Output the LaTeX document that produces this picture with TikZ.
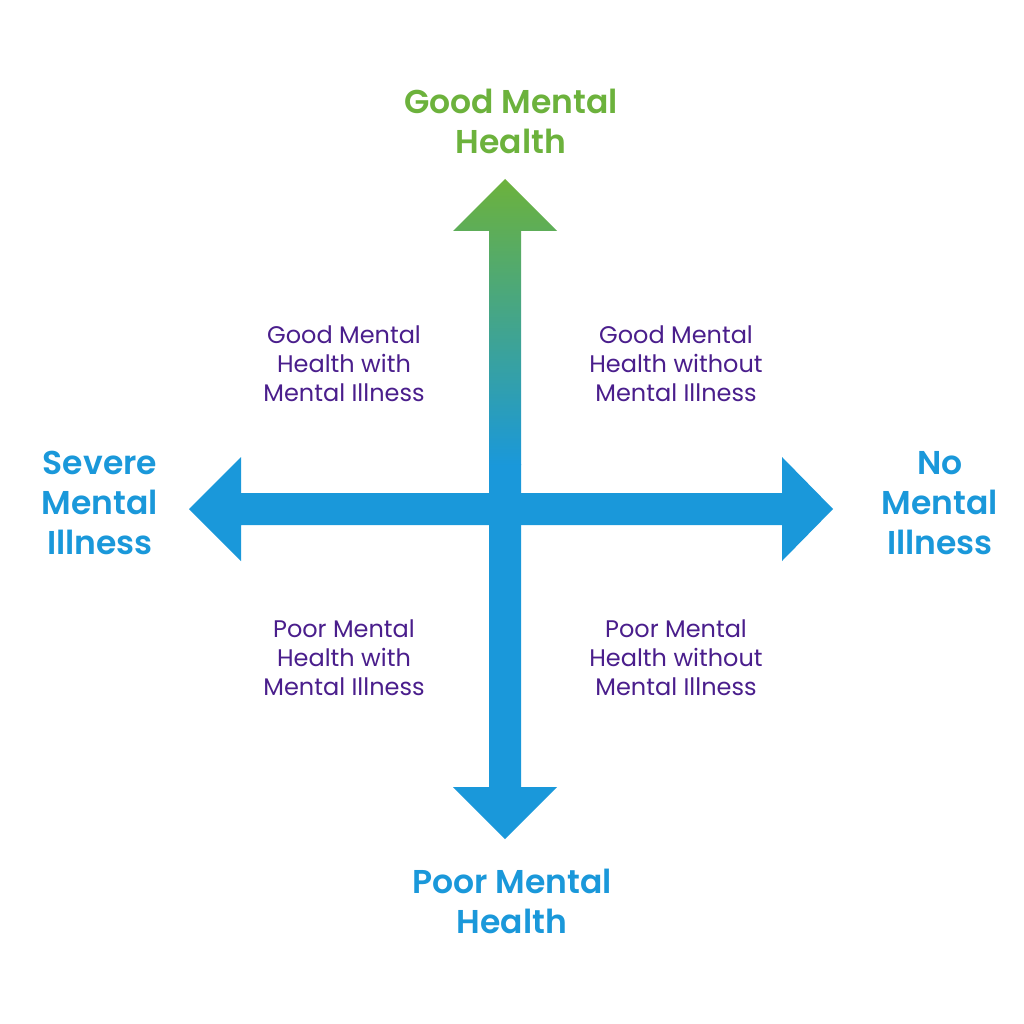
\documentclass[tikz,border=0pt]{standalone}
\usepackage{fontspec}
\setmainfont{Poppins}
\newfontfamily\polefont{Poppins}[UprightFont=* SemiBold]
\definecolor{mhgreen}{HTML}{6CB23C}
\definecolor{mhblue}{HTML}{1A98DA}
\definecolor{mhpurple}{HTML}{4A1E8C}
\begin{document}
\begin{tikzpicture}[x=1pt, y=-1pt,
	pole/.style={font=\fontsize{33}{40}\polefont, align=center, text=mhblue},
	quad/.style={font=\fontsize{24}{29}\selectfont, align=center, text=mhpurple}]
	\fill[white] (0,0) rectangle (1024,1024);
	\useasboundingbox (0,0) rectangle (1024,1024);
	\fill[mhblue] (189,509) -- (241,457) -- (241,493) -- (782,493) -- (782,457) -- (833,509)
		-- (782,561) -- (782,525) -- (241,525) -- (241,561) -- cycle;
	\fill[mhblue] (521,464) -- (521,787) -- (557,787) -- (505,839) -- (453,787) -- (489,787)
		-- (489,464) -- cycle;
	\shade[top color=mhgreen, bottom color=mhblue]
		(505,179) -- (557,231) -- (521,231) -- (521,465) -- (489,465) -- (489,231)
		-- (453,231) -- cycle;
	\node[pole, text=mhgreen] (good) at (511,121) {Good Mental\\Health};
	\node[pole] (poor) at (512,901) {Poor Mental\\Health};
	\node[pole] (severe) at (100,503) {Severe\\Mental\\Illness};
	\node[pole] (none) at (940,503) {No\\Mental\\Illness};
	\foreach \x/\y/\t/\n in {344/364/{Good Mental\\Health with\\Mental Illness}/gw,
		676/364/{Good Mental\\Health without\\Mental Illness}/gwo,
		344/658/{Poor Mental\\Health with\\Mental Illness}/pw,
		676/658/{Poor Mental\\Health without\\Mental Illness}/pwo}{
		\node[quad] (q\n) at (\x,\y) {\t};
	}
\end{tikzpicture}
\end{document}
